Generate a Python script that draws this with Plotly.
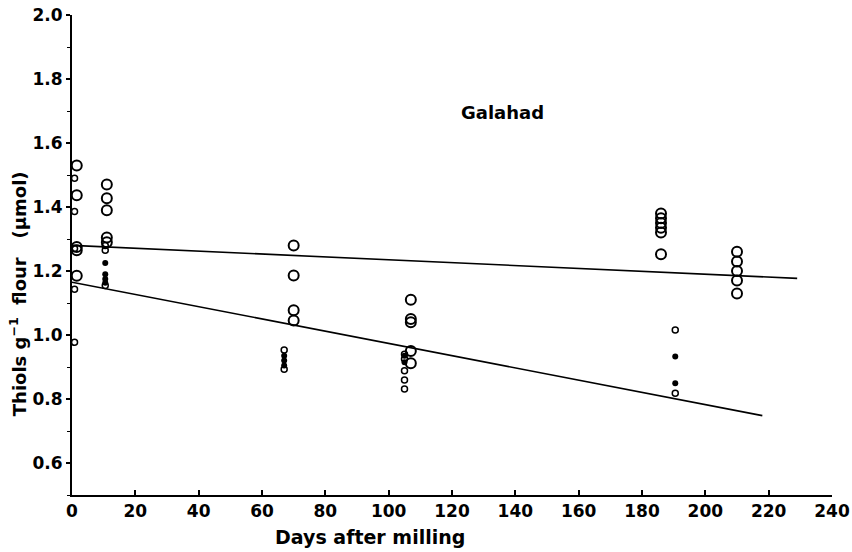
import plotly.graph_objects as go

# Large open circles
big_x = [1.5, 1.5, 1.5, 1.5, 1.5,
         11, 11, 11, 11, 11,
         70, 70, 70, 70,
         107, 107, 107, 107, 107,
         186, 186, 186, 186, 186, 186,
         210, 210, 210, 210, 210]
big_y = [1.53, 1.437, 1.275, 1.265, 1.185,
         1.47, 1.427, 1.39, 1.305, 1.29,
         1.28, 1.186, 1.077, 1.045,
         1.11, 1.05, 1.04, 0.95, 0.912,
         1.38, 1.365, 1.35, 1.335, 1.32, 1.252,
         1.26, 1.23, 1.20, 1.17, 1.13]

# Small open circles
small_x = [0.8, 0.8, 0.8, 0.8, 0.8,
           10.5, 10.5, 10.5,
           67, 67,
           105, 105, 105, 105, 105,
           190.5, 190.5]
small_y = [1.49, 1.386, 1.27, 1.143, 0.977,
           1.28, 1.265, 1.155,
           0.953, 0.893,
           0.94, 0.925, 0.888, 0.859, 0.831,
           1.016, 0.818]

# Small filled circles
fill_x = [10.5, 10.5, 10.5, 10.5,
          67, 67, 67,
          105, 105,
          190.5, 190.5]
fill_y = [1.225, 1.19, 1.175, 1.163,
          0.935, 0.92, 0.905,
          0.935, 0.915,
          0.933, 0.849]

# Regression lines (endpoints)
line1_x = [0, 229]
line1_y = [1.28, 1.177]
line2_x = [0, 218]
line2_y = [1.165, 0.748]

x_ticks = list(range(0, 241, 20))
y_ticks = [0.6, 0.8, 1.0, 1.2, 1.4, 1.6, 1.8, 2.0]

fig = go.Figure()
fig.add_trace(go.Scatter(x=line1_x, y=line1_y, mode="lines",
                         line=dict(color="black", width=1.6), showlegend=False))
fig.add_trace(go.Scatter(x=line2_x, y=line2_y, mode="lines",
                         line=dict(color="black", width=1.6), showlegend=False))
fig.add_trace(go.Scatter(x=big_x, y=big_y, mode="markers",
                         marker=dict(symbol="circle-open", size=10, color="black",
                                     line=dict(width=2)), showlegend=False))
fig.add_trace(go.Scatter(x=small_x, y=small_y, mode="markers",
                         marker=dict(symbol="circle-open", size=6, color="black",
                                     line=dict(width=1.5)), showlegend=False))
fig.add_trace(go.Scatter(x=fill_x, y=fill_y, mode="markers",
                         marker=dict(symbol="circle", size=6, color="black"),
                         showlegend=False))

font = dict(family="DejaVu Sans, sans-serif", size=17, color="black", weight="bold")
xt_font = dict(family="DejaVu Sans, sans-serif", size=19, color="black", weight="bold")
yt_font = dict(family="DejaVu Sans, sans-serif", size=18, color="black", weight="bold")
g_font = dict(family="DejaVu Sans, sans-serif", size=18, color="black", weight="bold")

fig.update_layout(
    width=852, height=552,
    margin=dict(l=72, r=20, t=15, b=57),
    paper_bgcolor="white", plot_bgcolor="white",
    font=font,
    xaxis=dict(range=[0, 240], tickvals=x_ticks, ticktext=[str(v) for v in x_ticks],
               showline=True, linecolor="black", linewidth=2, showgrid=False,
               zeroline=False, ticks="inside", ticklen=5, tickwidth=1.5,
               tickcolor="black", tickfont=font, automargin=False),
    yaxis=dict(range=[0.5, 2.0], tickvals=y_ticks,
               ticktext=[f"{v:.1f}" for v in y_ticks],
               showline=True, linecolor="black", linewidth=2, showgrid=False,
               zeroline=False, ticks="outside", ticklen=4, tickwidth=1.5,
               tickcolor="black", tickfont=font, automargin=False,
               minor=dict(dtick=0.1, tick0=0.5, ticks="outside", ticklen=3,
                          tickwidth=1.2, tickcolor="black", showgrid=False)),
    annotations=[
        dict(text="Galahad", x=136, y=1.694, xref="x", yref="y", showarrow=False,
             font=g_font),
        dict(text="Days after milling", x=94, xref="x", y=-0.087, yref="paper",
             yanchor="middle", showarrow=False, font=xt_font),
        dict(text="Thiols g<sup>−1</sup>  flour   (μmol)", x=-0.07, xref="paper",
             y=0.42, yref="paper", textangle=-90, showarrow=False,
             xanchor="center", yanchor="middle", font=yt_font),
    ],
)

fig.write_html("out.html")
